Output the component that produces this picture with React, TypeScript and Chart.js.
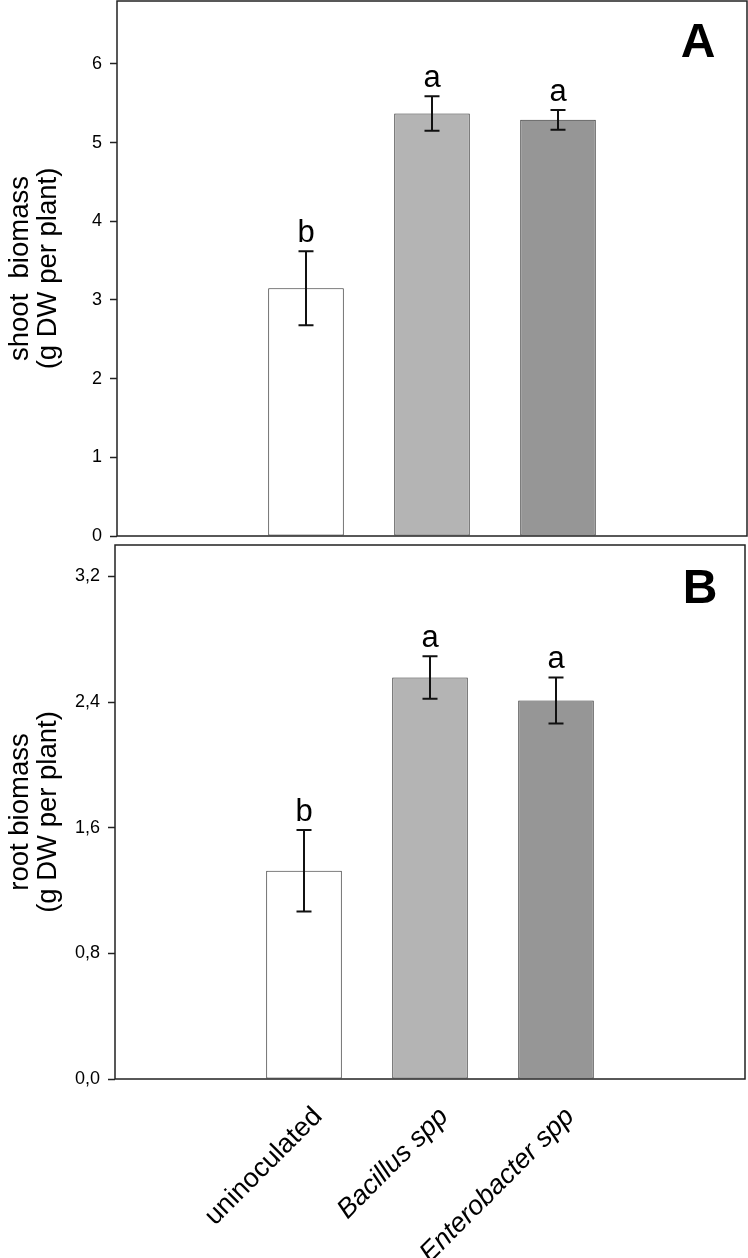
import React, { useEffect, useRef } from 'react';
import { Chart, registerables } from 'chart.js';
Chart.register(...registerables);

const FONT = '"Liberation Sans", Arial, Helvetica, sans-serif';

// categories (empty slots at both ends reproduce the margins of the original plot)
const categories = ['', 'uninoculated', 'Bacillus spp', 'Enterobacter spp', ''];

// Panel A: shoot biomass
const shootMeans = [null, 3.15, 5.37, 5.29, null];
const shootSE = [null, 0.47, 0.22, 0.125, null];
const shootLetters = ['', 'b', 'a', 'a', ''];
const shootTicks = [0, 1, 2, 3, 4, 5, 6];

// Panel B: root biomass
const rootMeans = [null, 1.326, 2.556, 2.41, null];
const rootSE = [null, 0.26, 0.135, 0.147, null];
const rootLetters = ['', 'b', 'a', 'a', ''];
const rootTicks = [0, 0.8, 1.6, 2.4, 3.2];

const barColors = ['#ffffff', '#ffffff', '#b4b4b4', '#969696', '#ffffff'];

function makeAnnot(means: (number | null)[], se: (number | null)[], letters: string[], panel: string, dx: number, dy: number) {
  return {
    id: 'annot' + panel,
    afterDatasetsDraw(chart: any) {
      const { ctx, chartArea } = chart;
      const x = chart.scales.x;
      const y = chart.scales.y;
      ctx.save();
      ctx.strokeStyle = '#111';
      ctx.lineWidth = 2;
      ctx.fillStyle = '#000';
      means.forEach((m, i) => {
        if (m == null) return;
        const e = se[i] as number;
        const px = x.getPixelForValue(i);
        const top = y.getPixelForValue(m + e);
        const bot = y.getPixelForValue(m - e);
        ctx.beginPath();
        ctx.moveTo(px, top);
        ctx.lineTo(px, bot);
        ctx.moveTo(px - 7.5, top);
        ctx.lineTo(px + 7.5, top);
        ctx.moveTo(px - 7.5, bot);
        ctx.lineTo(px + 7.5, bot);
        ctx.stroke();
        ctx.font = '31px ' + FONT;
        ctx.textAlign = 'center';
        ctx.textBaseline = 'alphabetic';
        ctx.fillText(letters[i], px, top - 9);
      });
      ctx.strokeStyle = '#222';
      ctx.lineWidth = 1.5;
      ctx.strokeRect(chartArea.left, chartArea.top, chartArea.right - chartArea.left, chartArea.bottom - chartArea.top);
      ctx.font = 'bold 48px ' + FONT;
      ctx.textAlign = 'center';
      ctx.textBaseline = 'alphabetic';
      ctx.fillText(panel, chartArea.right - dx, chartArea.top + dy);
      ctx.restore();
    },
  };
}

function yScale(max: number, ticks: number[], title: string[], axisWidth: number, fmt: (v: number) => string) {
  return {
    type: 'linear',
    min: 0,
    max,
    afterBuildTicks: (s: any) => {
      s.ticks = ticks.map((v) => ({ value: v }));
    },
    afterFit: (s: any) => {
      s.width = axisWidth;
      s.paddingTop = 0;
      s.paddingBottom = 0;
    },
    border: { display: false },
    grid: { display: true, drawOnChartArea: false, drawTicks: true, tickLength: 7, tickColor: '#222', tickWidth: 1.5 },
    ticks: {
      color: '#000',
      padding: 8,
      font: { family: FONT, size: 18 },
      callback: (v: any) => fmt(Number(v)),
    },
    title: {
      display: true,
      text: title,
      color: '#000',
      font: { family: FONT, size: 27.5, lineHeight: 1.0 },
      padding: { top: 7, bottom: 0 },
    },
  };
}

export default function App() {
  const refA = useRef<HTMLCanvasElement | null>(null);
  const refB = useRef<HTMLCanvasElement | null>(null);

  useEffect(() => {
    document.body.style.margin = '0';
    const common = {
      responsive: false,
      animation: false,
      devicePixelRatio: 1,
      events: [],
    };
    const dataset = (means: (number | null)[]) => ({
      data: means,
      backgroundColor: barColors,
      borderColor: '#333',
      borderWidth: 1,
      borderSkipped: false,
      barPercentage: 0.6,
      categoryPercentage: 1.0,
    });

    const chartA = new Chart(refA.current as HTMLCanvasElement, {
      type: 'bar',
      data: { labels: categories, datasets: [dataset(shootMeans)] },
      options: {
        ...common,
        layout: { autoPadding: false, padding: { top: 1, right: 1, bottom: 24, left: 0 } },
        plugins: { legend: { display: false }, tooltip: { enabled: false } },
        scales: {
          x: { display: false },
          y: yScale(6.8, shootTicks, ['shoot  biomass', '(g DW per plant)'], 117, (v) => String(v)),
        },
      } as any,
      plugins: [makeAnnot(shootMeans, shootSE, shootLetters, 'A', 49, 56)],
    });

    const chartB = new Chart(refB.current as HTMLCanvasElement, {
      type: 'bar',
      data: { labels: categories, datasets: [dataset(rootMeans)] },
      options: {
        ...common,
        layout: { autoPadding: false, padding: { top: 5, right: 3, bottom: 0, left: 0 } },
        plugins: { legend: { display: false }, tooltip: { enabled: false } },
        scales: {
          x: {
            type: 'category',
            afterFit: (s: any) => {
              s.height = 179;
              s.paddingLeft = 0;
              s.paddingRight = 0;
            },
            border: { display: false },
            grid: { display: false, drawTicks: false },
            ticks: {
              color: '#000',
              autoSkip: false,
              maxRotation: 45,
              minRotation: 45,
              padding: 22,
              labelOffset: 14,
              font: (ctx: any) => ({ family: FONT, size: 27, style: ctx.index >= 2 ? 'italic' : 'normal' }),
            },
          },
          y: yScale(3.4, rootTicks, ['root biomass', '(g DW per plant)'], 115, (v) => v.toFixed(1).replace('.', ',')),
        },
      } as any,
      plugins: [makeAnnot(rootMeans, rootSE, rootLetters, 'B', 45, 58)],
    });

    return () => {
      chartA.destroy();
      chartB.destroy();
    };
  }, []);

  return (
    <div style={{ position: 'relative', width: 748, height: 1258, background: '#fff', overflow: 'hidden' }}>
      <canvas ref={refA} width={748} height={560} style={{ position: 'absolute', left: 0, top: 0, width: 748, height: 560 }} />
      <canvas ref={refB} width={748} height={718} style={{ position: 'absolute', left: 0, top: 540, width: 748, height: 718 }} />
    </div>
  );
}
